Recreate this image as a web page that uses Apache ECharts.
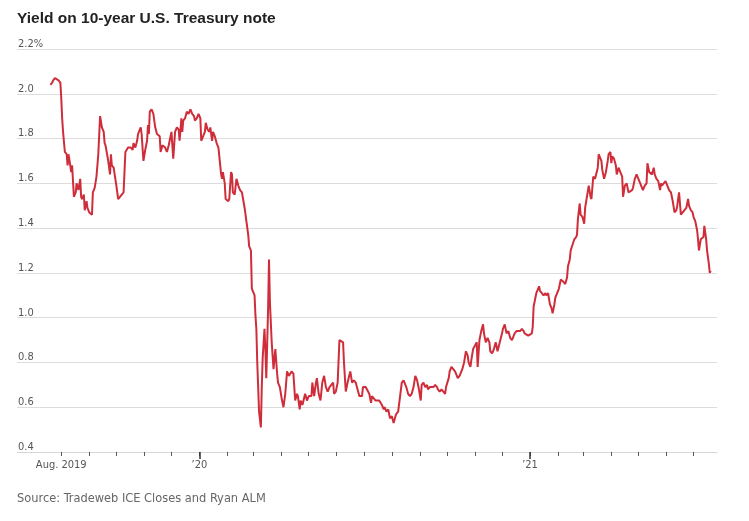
<!DOCTYPE html>
<html><head><meta charset="utf-8">
<script src="https://cdn.jsdelivr.net/npm/echarts@6/dist/echarts.min.js"></script>
<style>html,body{margin:0;padding:0;background:#fff}#c{width:749px;height:521px}</style>
</head><body><div id="c"></div>
<script>
const chartTitle = 'Yield on 10-year U.S. Treasury note';
const sourceText = 'Source: Tradeweb ICE Closes and Ryan ALM';
const axisStart = '2019-06-13';
const axisEnd = '2021-07-27';
const firstTick = '2019-08-01';
const majorTicks = ['2020-01-01', '2021-01-01'];
const xTickLabels = {'2019-08-01': 'Aug. 2019', '2020-01-01': '\u201920', '2021-01-01': '\u201921'};
const yMin = 0.4, yMax = 2.2, yStep = 0.2;

const dates = [
'2019-07-20','2019-07-22','2019-07-23','2019-07-25','2019-07-27','2019-07-29','2019-07-31',
'2019-08-01','2019-08-02','2019-08-03','2019-08-05','2019-08-07','2019-08-08','2019-08-09','2019-08-11','2019-08-12','2019-08-13','2019-08-14','2019-08-15','2019-08-17','2019-08-18','2019-08-20','2019-08-22','2019-08-23','2019-08-24','2019-08-26','2019-08-27','2019-08-29','2019-08-30',
'2019-09-01','2019-09-04','2019-09-05','2019-09-07','2019-09-09','2019-09-11','2019-09-13','2019-09-15','2019-09-17','2019-09-18','2019-09-19','2019-09-22','2019-09-24','2019-09-25','2019-09-26','2019-09-28','2019-09-30',
'2019-10-01','2019-10-03','2019-10-05','2019-10-07','2019-10-09','2019-10-10','2019-10-11','2019-10-14','2019-10-15','2019-10-17','2019-10-19','2019-10-20','2019-10-22','2019-10-24','2019-10-25','2019-10-28','2019-10-29','2019-10-31',
'2019-11-02','2019-11-04','2019-11-05','2019-11-06','2019-11-07','2019-11-09','2019-11-11','2019-11-13','2019-11-15','2019-11-16','2019-11-18','2019-11-19','2019-11-21','2019-11-23','2019-11-24','2019-11-26','2019-11-28','2019-11-29',
'2019-12-01','2019-12-03','2019-12-05','2019-12-07','2019-12-09','2019-12-10','2019-12-12','2019-12-13','2019-12-14','2019-12-16','2019-12-18','2019-12-20','2019-12-22','2019-12-24','2019-12-26','2019-12-27','2019-12-29','2019-12-31',
'2020-01-02','2020-01-03','2020-01-05','2020-01-07','2020-01-08','2020-01-10','2020-01-12','2020-01-13','2020-01-15','2020-01-16','2020-01-18','2020-01-20','2020-01-22','2020-01-24','2020-01-25','2020-01-26','2020-01-27','2020-01-29','2020-01-30',
'2020-02-02','2020-02-03','2020-02-05','2020-02-06','2020-02-07','2020-02-09','2020-02-11','2020-02-13','2020-02-15','2020-02-17','2020-02-19','2020-02-20','2020-02-22','2020-02-24','2020-02-25','2020-02-27','2020-02-28',
'2020-03-02','2020-03-03','2020-03-04','2020-03-05','2020-03-06','2020-03-07','2020-03-09','2020-03-10','2020-03-11','2020-03-13','2020-03-14','2020-03-15','2020-03-17','2020-03-18','2020-03-19','2020-03-21','2020-03-23','2020-03-25','2020-03-27','2020-03-28','2020-03-30',
'2020-04-01','2020-04-03','2020-04-05','2020-04-07','2020-04-09','2020-04-12','2020-04-14','2020-04-16','2020-04-18','2020-04-19','2020-04-21','2020-04-22','2020-04-24','2020-04-27','2020-04-29',
'2020-05-01','2020-05-04','2020-05-05','2020-05-07','2020-05-09','2020-05-10','2020-05-12','2020-05-14','2020-05-16','2020-05-18','2020-05-20','2020-05-22','2020-05-24','2020-05-26','2020-05-28','2020-05-29','2020-05-31',
'2020-06-02','2020-06-04','2020-06-06','2020-06-08','2020-06-09','2020-06-11','2020-06-13','2020-06-15','2020-06-16','2020-06-18','2020-06-20','2020-06-22','2020-06-24','2020-06-26','2020-06-29','2020-06-30',
'2020-07-03','2020-07-05','2020-07-07','2020-07-09','2020-07-10','2020-07-12','2020-07-14','2020-07-16','2020-07-18','2020-07-21','2020-07-23','2020-07-24','2020-07-26','2020-07-28','2020-07-30',
'2020-08-01','2020-08-03','2020-08-05','2020-08-06','2020-08-08','2020-08-10','2020-08-12','2020-08-14','2020-08-17','2020-08-19','2020-08-21','2020-08-23','2020-08-25','2020-08-27','2020-08-29','2020-08-30','2020-08-31',
'2020-09-02','2020-09-03','2020-09-05','2020-09-07','2020-09-09','2020-09-10','2020-09-12','2020-09-14','2020-09-16','2020-09-18','2020-09-20','2020-09-21','2020-09-23','2020-09-25','2020-09-27','2020-09-29','2020-09-30',
'2020-10-01','2020-10-03','2020-10-04','2020-10-06','2020-10-08','2020-10-10','2020-10-12','2020-10-13','2020-10-15','2020-10-17','2020-10-18','2020-10-20','2020-10-22','2020-10-24','2020-10-25','2020-10-27','2020-10-28','2020-10-30',
'2020-11-01','2020-11-03','2020-11-04','2020-11-06','2020-11-08','2020-11-10','2020-11-11','2020-11-13','2020-11-15','2020-11-17','2020-11-18','2020-11-20','2020-11-22','2020-11-24','2020-11-26','2020-11-28',
'2020-12-01','2020-12-02','2020-12-04','2020-12-05','2020-12-06','2020-12-08','2020-12-10','2020-12-12','2020-12-14','2020-12-15','2020-12-17','2020-12-19','2020-12-21','2020-12-23','2020-12-25','2020-12-26','2020-12-30',
'2021-01-03','2021-01-04','2021-01-05','2021-01-08','2021-01-11','2021-01-12','2021-01-14','2021-01-16','2021-01-18','2021-01-19','2021-01-21','2021-01-23','2021-01-25','2021-01-26','2021-01-28','2021-01-29','2021-01-31',
'2021-02-02','2021-02-04','2021-02-07','2021-02-09','2021-02-11','2021-02-12','2021-02-14','2021-02-15','2021-02-17','2021-02-19','2021-02-21','2021-02-22','2021-02-23','2021-02-25','2021-02-26','2021-02-28',
'2021-03-02','2021-03-03','2021-03-05','2021-03-07','2021-03-09','2021-03-10','2021-03-12','2021-03-14','2021-03-16','2021-03-17','2021-03-18','2021-03-21','2021-03-22','2021-03-24','2021-03-26','2021-03-28','2021-03-29','2021-03-31',
'2021-04-01','2021-04-02','2021-04-04','2021-04-06','2021-04-07','2021-04-09','2021-04-11','2021-04-13','2021-04-14','2021-04-16','2021-04-18','2021-04-20','2021-04-22','2021-04-24','2021-04-25','2021-04-27','2021-04-29',
'2021-05-01','2021-05-03','2021-05-05','2021-05-06','2021-05-08','2021-05-10','2021-05-11','2021-05-13','2021-05-15','2021-05-16','2021-05-18','2021-05-19','2021-05-21','2021-05-23','2021-05-25','2021-05-26','2021-05-27','2021-05-29','2021-05-31',
'2021-06-02','2021-06-04','2021-06-06','2021-06-08','2021-06-10','2021-06-12','2021-06-13','2021-06-15','2021-06-17','2021-06-19','2021-06-21','2021-06-23','2021-06-25','2021-06-26','2021-06-28','2021-06-30',
'2021-07-01','2021-07-03','2021-07-05','2021-07-06','2021-07-07','2021-07-09','2021-07-12','2021-07-13','2021-07-15','2021-07-16','2021-07-17','2021-07-18','2021-07-19','2021-07-20'
];

const yields = [
2.04,2.05,2.06,2.07,2.07,2.06,2.05,
1.98,1.89,1.83,1.74,1.73,1.68,1.73,1.68,1.65,1.68,1.61,1.54,1.56,1.60,1.57,1.62,1.54,1.53,1.55,1.48,1.52,1.49,
1.47,1.46,1.56,1.58,1.63,1.73,1.90,1.85,1.83,1.78,1.77,1.70,1.64,1.73,1.68,1.67,1.67,
1.59,1.53,1.53,1.55,1.56,1.65,1.74,1.76,1.76,1.76,1.75,1.78,1.76,1.79,1.82,1.85,1.82,1.70,
1.75,1.79,1.86,1.82,1.92,1.93,1.91,1.85,1.82,1.82,1.81,1.74,1.77,1.77,1.76,1.74,1.77,1.79,
1.83,1.71,1.83,1.85,1.84,1.79,1.89,1.83,1.88,1.89,1.92,1.91,1.93,1.91,1.90,1.88,1.89,1.91,
1.89,1.79,1.81,1.83,1.87,1.84,1.83,1.85,1.79,1.83,1.81,1.78,1.76,1.68,1.64,1.62,1.65,1.60,1.53,
1.52,1.53,1.65,1.64,1.56,1.55,1.62,1.59,1.57,1.56,1.56,1.49,1.43,1.37,1.32,1.30,1.13,
1.10,1.01,0.95,0.80,0.69,0.58,0.51,0.69,0.82,0.95,0.86,0.73,1.04,1.26,1.07,0.89,0.77,0.86,0.75,0.71,0.69,
0.64,0.60,0.66,0.76,0.74,0.76,0.75,0.63,0.66,0.65,0.59,0.63,0.61,0.66,0.63,
0.65,0.65,0.71,0.65,0.71,0.73,0.66,0.63,0.71,0.74,0.69,0.67,0.69,0.70,0.71,0.66,0.67,
0.71,0.90,0.90,0.89,0.80,0.67,0.71,0.71,0.76,0.71,0.72,0.71,0.68,0.65,0.65,0.69,
0.69,0.69,0.66,0.62,0.65,0.64,0.63,0.63,0.63,0.61,0.59,0.60,0.58,0.59,0.55,
0.56,0.53,0.56,0.57,0.58,0.58,0.71,0.72,0.69,0.66,0.65,0.66,0.69,0.74,0.72,0.70,0.68,
0.63,0.70,0.71,0.69,0.70,0.68,0.69,0.69,0.69,0.70,0.69,0.68,0.67,0.68,0.67,0.66,0.69,
0.69,0.73,0.76,0.78,0.78,0.76,0.74,0.73,0.74,0.76,0.77,0.80,0.85,0.83,0.80,0.78,0.81,0.86,
0.86,0.89,0.78,0.90,0.94,0.97,0.93,0.89,0.91,0.89,0.85,0.84,0.86,0.89,0.85,0.85,
0.93,0.95,0.97,0.95,0.93,0.94,0.91,0.90,0.90,0.93,0.94,0.94,0.94,0.95,0.94,0.93,0.92,
0.93,0.96,1.05,1.11,1.14,1.12,1.12,1.10,1.11,1.10,1.11,1.06,1.04,1.02,1.06,1.09,1.09,
1.13,1.17,1.16,1.15,1.18,1.23,1.26,1.30,1.30,1.35,1.36,1.37,1.44,1.51,1.46,1.45,
1.42,1.49,1.54,1.59,1.54,1.53,1.63,1.62,1.62,1.67,1.73,1.70,1.66,1.62,1.65,1.70,1.73,1.74,
1.69,1.72,1.71,1.68,1.64,1.67,1.67,1.63,1.54,1.59,1.60,1.56,1.56,1.57,1.58,1.62,1.64,
1.62,1.60,1.58,1.57,1.59,1.60,1.69,1.65,1.65,1.64,1.67,1.64,1.62,1.61,1.57,1.60,1.59,1.60,1.61,
1.61,1.57,1.56,1.52,1.47,1.48,1.50,1.56,1.46,1.47,1.47,1.49,1.53,1.50,1.48,1.47,
1.45,1.43,1.39,1.35,1.30,1.35,1.36,1.41,1.35,1.30,1.30,1.24,1.20,1.21
];

// daily category scale for the x axis
const days = [];
for (let t = Date.parse(axisStart + 'T00:00:00Z'); t <= Date.parse(axisEnd + 'T00:00:00Z'); t += 86400000) {
  days.push(new Date(t).toISOString().slice(0, 10));
}
const dayIndex = {};
days.forEach((d, i) => { dayIndex[d] = i; });
const lineData = days.map(() => null);
dates.forEach((d, i) => { lineData[dayIndex[d]] = yields[i]; });

const condensed = "'Liberation Sans Narrow','DejaVu Sans Condensed',sans-serif";
const chart = echarts.init(document.getElementById('c'), null, {renderer: 'canvas'});
chart.setOption({
  animation: false,
  backgroundColor: '#fff',
  title: {
    text: chartTitle, left: 12, top: 6,
    textStyle: {fontFamily: "'Liberation Sans', Arial, sans-serif", fontWeight: 'bold', fontSize: 15.5, color: '#222'}
  },
  graphic: [{
    type: 'text', left: 17, top: 492,
    style: {text: sourceText, font: "12.7px " + condensed, fill: '#666'}
  }],
  grid: {left: 17, right: 32, top: 49, bottom: 69, containLabel: false},
  xAxis: [{
    type: 'category', data: days, boundaryGap: false,
    axisLine: {lineStyle: {color: '#d6d6d6', width: 1}},
    axisTick: {interval: (i, v) => v.endsWith('-01') && v >= firstTick, length: 4, lineStyle: {color: '#555'}},
    axisLabel: {interval: (i, v) => v in xTickLabels, formatter: v => xTickLabels[v] || '', color: '#555', fontSize: 11, margin: 8, fontFamily: condensed},
    splitLine: {show: false}
  }, {
    type: 'category', data: days, boundaryGap: false, position: 'bottom',
    axisLine: {show: false},
    axisTick: {interval: (i, v) => majorTicks.indexOf(v) >= 0, length: 7, lineStyle: {color: '#333', width: 1.5}},
    axisLabel: {show: false},
    splitLine: {show: false}
  }],
  yAxis: {
    type: 'value', min: yMin, max: yMax, interval: yStep,
    axisLine: {show: false}, axisTick: {show: false},
    splitLine: {lineStyle: {color: '#dcdcdc', width: 1}},
    axisLabel: {
      inside: true, margin: 1, verticalAlign: 'bottom', lineHeight: 10, padding: 0,
      color: '#555', fontSize: 11, fontFamily: condensed,
      formatter: v => Math.abs(v - yMax) < 1e-9 ? v.toFixed(1) + '%' : v.toFixed(1)
    }
  },
  series: [{
    type: 'line', xAxisIndex: 0, data: lineData, connectNulls: true,
    showSymbol: false, symbol: 'none', smooth: false,
    lineStyle: {color: '#cf2d3a', width: 2}, z: 3
  }]
});
</script>
</body></html>
